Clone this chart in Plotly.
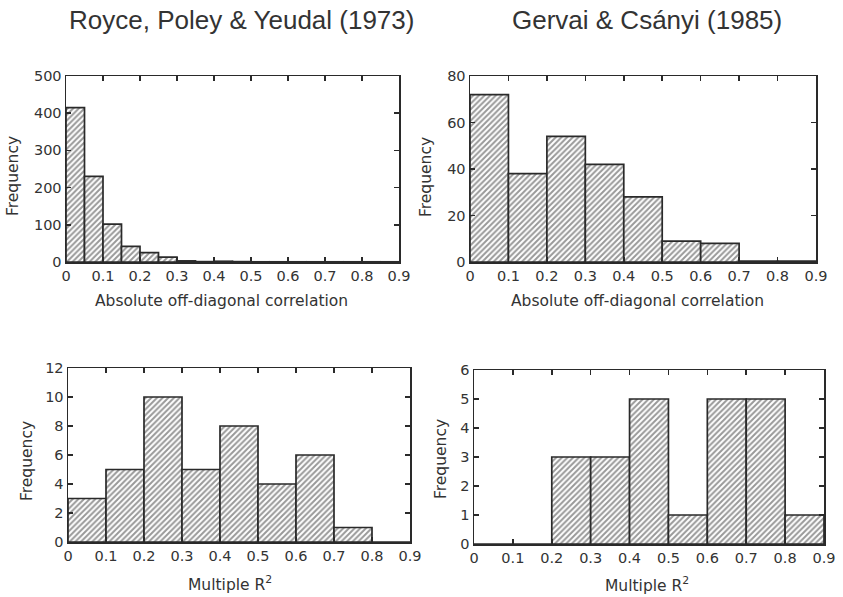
import plotly.graph_objects as go

# ---- data ----
tl_edges = [0.0, 0.05, 0.10, 0.15, 0.20, 0.25, 0.30, 0.35, 0.40, 0.45, 0.50, 0.55, 0.60, 0.65, 0.70, 0.75, 0.80, 0.85]
tl_counts = [415, 230, 102, 42, 25, 13, 3, 1, 2, 1, 0.5, 0.5, 0.5, 0.5, 0.5, 0.5, 0.5, 0.5]
tl_width = 0.05

tr_edges = [0.0, 0.1, 0.2, 0.3, 0.4, 0.5, 0.6, 0.7, 0.8]
tr_counts = [72, 38, 54, 42, 28, 9, 8, 0.4, 0.4]
tr_width = 0.1

bl_edges = [0.0, 0.1, 0.2, 0.3, 0.4, 0.5, 0.6, 0.7, 0.8]
bl_counts = [3, 5, 10, 5, 8, 4, 6, 1, 0]
bl_width = 0.1

br_edges = [0.0, 0.1, 0.2, 0.3, 0.4, 0.5, 0.6, 0.7, 0.8]
br_counts = [0, 0, 3, 3, 5, 1, 5, 5, 1]
br_width = 0.1

x_ticks = [0, 0.1, 0.2, 0.3, 0.4, 0.5, 0.6, 0.7, 0.8, 0.9]
x_ticktext = ["0", "0.1", "0.2", "0.3", "0.4", "0.5", "0.6", "0.7", "0.8", "0.9"]
tl_yticks = [0, 100, 200, 300, 400, 500]
tr_yticks = [0, 20, 40, 60, 80]
bl_yticks = [0, 2, 4, 6, 8, 10, 12]
br_yticks = [0, 1, 2, 3, 4, 5, 6]

title_left = "Royce, Poley & Yeudal (1973)"
title_right = "Gervai & Csányi (1985)"
xlabel_top = "Absolute off-diagonal correlation"
xlabel_bottom = "Multiple R<sup>2</sup>"
ylabel = "Frequency"

# ---- layout geometry (window pixels) ----
W, H = 843, 597
def xd(a, b):
    return [a / W, b / W]
def yd(top, bottom):
    return [1 - bottom / H, 1 - top / H]

TITLE_FONT = "Arial, Liberation Sans, sans-serif"
FONT = "DejaVu Sans, sans-serif"
INK = "#2a2a2a"
TXT = "#333333"

fig = go.Figure()

panels = [
    (tl_edges, tl_counts, tl_width, "x", "y"),
    (tr_edges, tr_counts, tr_width, "x2", "y2"),
    (bl_edges, bl_counts, bl_width, "x3", "y3"),
    (br_edges, br_counts, br_width, "x4", "y4"),
]

for edges, counts, w, xa, ya in panels:
    fig.add_trace(go.Bar(
        x=edges, y=counts, width=w, offset=0,
        xaxis=xa, yaxis=ya,
        marker=dict(
            color="white",
            line=dict(color=INK, width=1.7),
            pattern=dict(shape="/", fgcolor="#333333", bgcolor="white", size=4, solidity=0.5),
        ),
        showlegend=False,
        hoverinfo="skip",
    ))

domains = [
    (xd(66, 399), yd(76, 262)),
    (xd(470, 816), yd(76, 262)),
    (xd(68, 410), yd(368, 542)),
    (xd(474, 824), yd(370, 544)),
]
ytick_sets = [tl_yticks, tr_yticks, bl_yticks, br_yticks]

axis_common = dict(
    showline=True, linecolor=INK, linewidth=1.5, mirror="ticks",
    ticks="inside", ticklen=5, tickwidth=1.5, tickcolor=INK,
    showgrid=False, zeroline=False, automargin=False,
    tickfont=dict(family=FONT, size=14.5, color=TXT),
)

layout = dict(
    width=W, height=H,
    margin=dict(l=0, r=0, t=0, b=0, pad=0),
    paper_bgcolor="white", plot_bgcolor="white",
    bargap=0,
    font=dict(family=FONT, color=TXT),
)

for i, ((dx, dy), yt) in enumerate(zip(domains, ytick_sets)):
    sfx = "" if i == 0 else str(i + 1)
    layout["xaxis" + sfx] = dict(
        domain=dx, range=[0, 0.9], tickvals=x_ticks, ticktext=x_ticktext,
        anchor="y" + sfx, **axis_common)
    layout["yaxis" + sfx] = dict(
        domain=dy, range=[0, yt[-1]], tickvals=yt,
        anchor="x" + sfx, **axis_common)

fig.update_layout(**layout)

def ann(text, x, y, size, angle=0, family=FONT):
    fig.add_annotation(text=text, x=x / W, y=1 - y / H, xref="paper", yref="paper",
                       showarrow=False, textangle=angle,
                       font=dict(family=family, size=size, color=TXT),
                       xanchor="center", yanchor="middle")

ann(title_left, 241, 20, 26, family=TITLE_FONT)
ann(title_right, 647, 20, 26, family=TITLE_FONT)
ann(xlabel_top, 221, 301, 15.5)
ann(xlabel_top, 637, 301, 15.5)
ann(xlabel_bottom, 230, 583, 15.5)
ann(xlabel_bottom, 647, 584, 15.5)
ann(ylabel, 13, 176, 15.5, -90)
ann(ylabel, 426, 177, 15.5, -90)
ann(ylabel, 27, 461, 15.5, -90)
ann(ylabel, 441, 459, 15.5, -90)

# remove the browser's default body margin so the figure sits at the window's corner
fig.write_html("out.html", config={"displayModeBar": False, "staticPlot": True},
               post_script="document.body.style.margin='0px';")
